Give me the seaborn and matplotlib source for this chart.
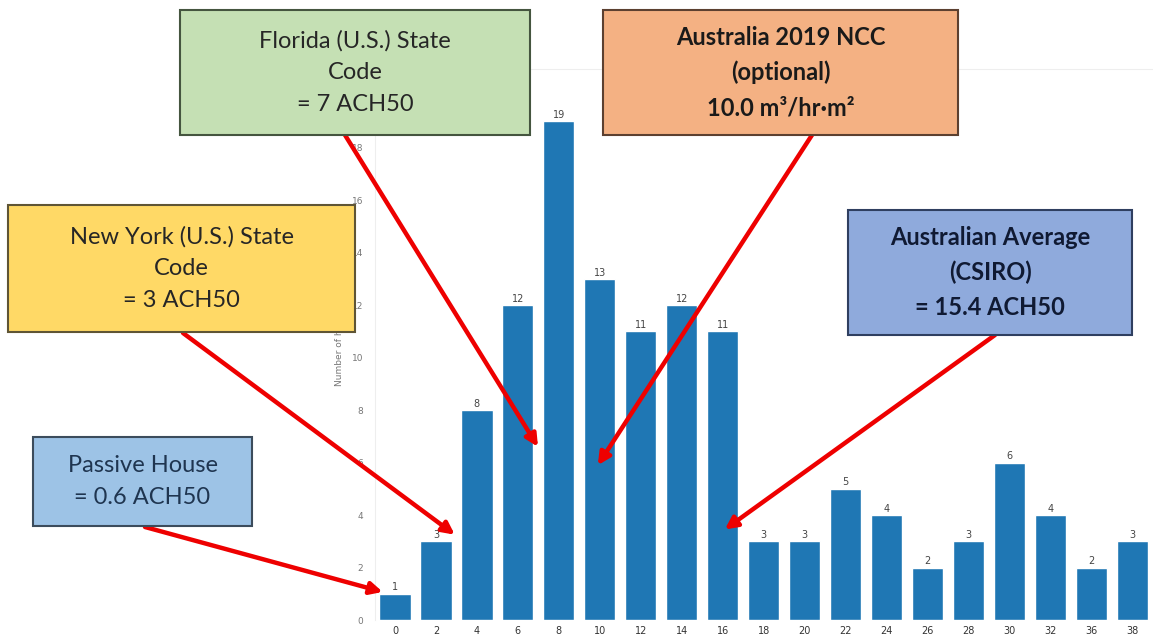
import matplotlib
matplotlib.use("Agg")
import numpy as np
import pandas as pd
import seaborn as sns
from matplotlib import pylab as plt
from matplotlib.patches import Rectangle

# ACH50 bins (tick labels) and number of houses in each bin
ach_bins = ["0", "2", "4", "6", "8", "10", "12", "14", "16", "18",
            "20", "22", "24", "26", "28", "30", "32", "36", "38"]
house_counts = [1, 3, 8, 12, 19, 13, 11, 12, 11, 3,
                3, 5, 4, 2, 3, 6, 4, 2, 3]

# callout boxes: text, box (left, top, width, height) in pixels, face, edge, text colour, bold
callout_text = [
    "Florida (U.S.) State\nCode\n= 7 ACH50",
    "Australia 2019 NCC\n(optional)\n10.0 m\u00b3/hr\u00b7m\u00b2",
    "New York (U.S.) State\nCode\n= 3 ACH50",
    "Australian Average\n(CSIRO)\n= 15.4 ACH50",
    "Passive House\n= 0.6 ACH50",
]
callout_box = [(180, 10, 350, 125), (603, 10, 355, 125), (8, 205, 347, 127),
               (848, 210, 284, 125), (33, 437, 219, 89)]
callout_face = ["#c5e0b4", "#f4b183", "#ffd966", "#8faadc", "#9dc3e6"]
callout_edge = ["#45553f", "#5c4030", "#5f5535", "#2f3f60", "#3c4c5c"]
callout_color = ["#262626", "#1a1a1a", "#262626", "#101a33", "#1f3550"]
callout_bold = [False, True, False, True, False]
# arrow start (pixels, on box edge) and target (bar index, count)
arrow_start = [(345, 135), (812, 135), (183, 333), (995, 335), (145, 527)]
arrow_target = [(3.49, 6.6), (4.95, 5.9), (1.46, 3.25), (8.05, 3.45), (-0.3, 1.07)]

W, H = 1153, 638
sns.set_style("white")
plt.rcParams["font.family"] = ["Lato", "DejaVu Sans"]

fig = plt.figure(figsize=(W / 100, H / 100), dpi=100)
ax = fig.add_axes([374.5 / W, 18 / H, 1 - 374.5 / W, (620 - 69) / H])

df = pd.DataFrame({"ach": ach_bins, "count": house_counts})
sns.barplot(data=df, x="ach", y="count", color="#1f77b4", saturation=1,
            width=0.76, ax=ax)
ax.bar_label(ax.containers[0], fontsize=7, color="#444444", padding=1,
             family="DejaVu Sans")

ax.set_ylim(0, 21)
ax.set_yticks(range(0, 20, 2))
ax.tick_params(axis="y", labelsize=6.5, labelcolor="#777777", length=0, pad=8)
ax.tick_params(axis="x", labelsize=7, labelcolor="#333333", length=0, pad=4)
for lab in ax.get_xticklabels() + ax.get_yticklabels():
    lab.set_family("DejaVu Sans")
ax.set_xlabel("")
ax.set_ylabel("Number of houses", fontsize=6.5, color="#777777",
              family="DejaVu Sans", labelpad=6)
for side in ["left", "top", "right", "bottom"]:
    ax.spines[side].set_color("#eeeeee")
ax.spines["right"].set_visible(False)
ax.spines["bottom"].set_visible(False)

for i, txt in enumerate(callout_text):
    x, y, w, h = callout_box[i]
    rect = Rectangle((x / W, 1 - (y + h) / H), w / W, h / H,
                     transform=fig.transFigure, facecolor=callout_face[i],
                     edgecolor=callout_edge[i], lw=1.5, zorder=5)
    fig.add_artist(rect)
    fig.text((x + w / 2) / W, 1 - (y + h / 2) / H, txt, ha="center", va="center",
             fontsize=17, color=callout_color[i], linespacing=1.62,
             fontweight="bold" if callout_bold[i] else "normal", zorder=6)

for i in range(len(arrow_start)):
    sx, sy = arrow_start[i]
    ax.annotate("", xy=arrow_target[i], xycoords="data",
                xytext=(sx, H - sy), textcoords="figure pixels",
                arrowprops=dict(arrowstyle="-|>", color="#ee0000", lw=3.2,
                                mutation_scale=18, shrinkA=0, shrinkB=0),
                annotation_clip=False, zorder=7)

fig.savefig("out.png", dpi=100)
